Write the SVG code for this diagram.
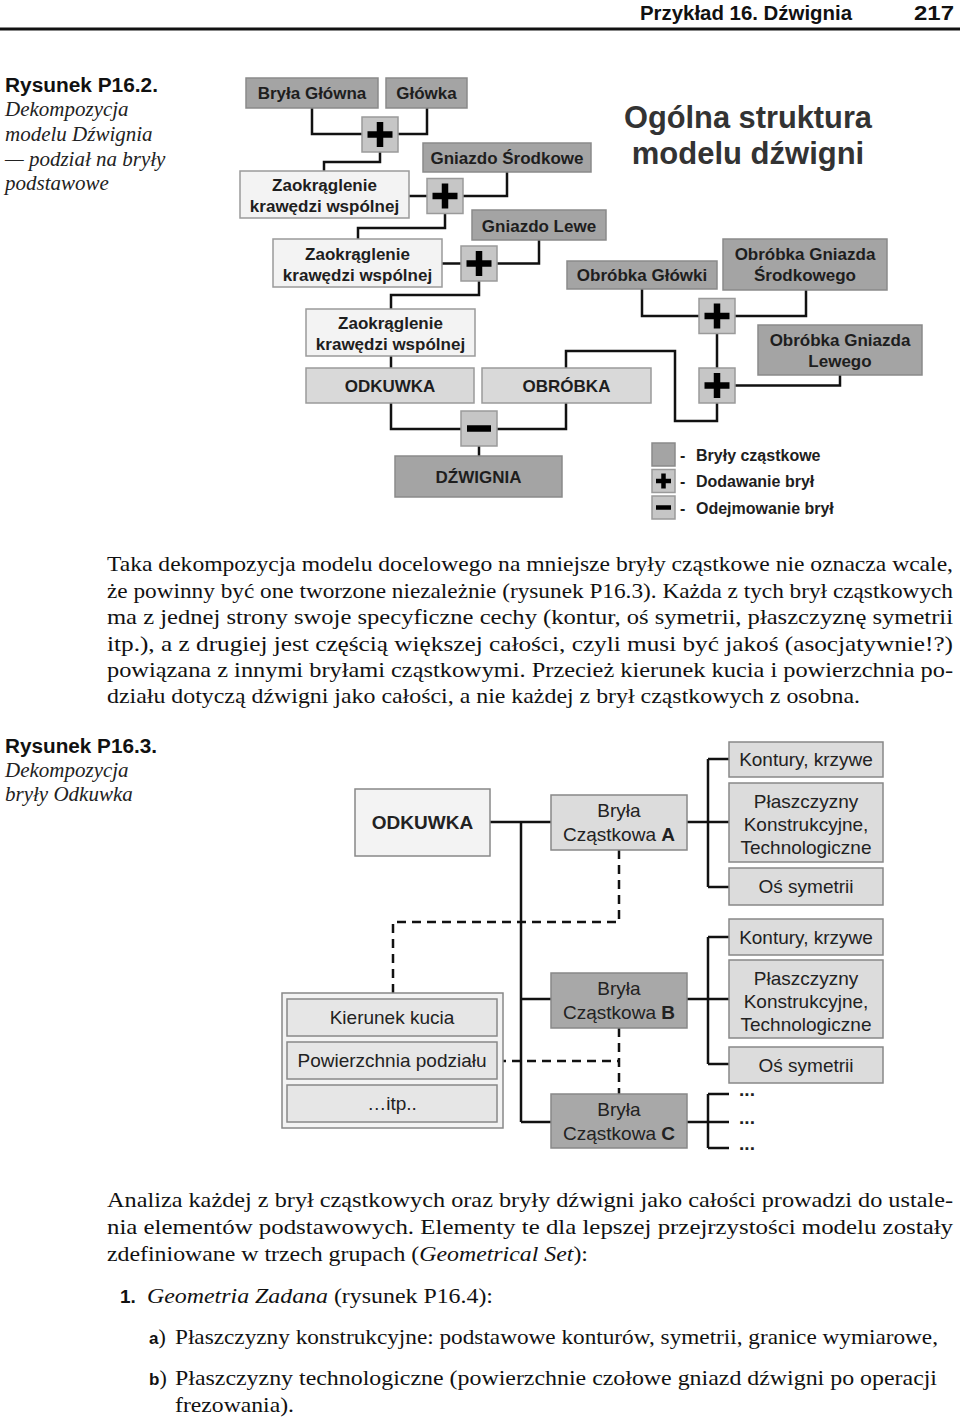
<svg xmlns="http://www.w3.org/2000/svg" xmlns:xlink="http://www.w3.org/1999/xlink" width="960" height="1419" viewBox="0 0 960 1419">
<style>
.bg{fill:#ffffff}
.dark{fill:#a4a4a4;stroke:#8a8a8a;stroke-width:1.5}
.light{fill:#f3f3f3;stroke:#9a9a9a;stroke-width:1.5}
.mid{fill:#d9d9d9;stroke:#9a9a9a;stroke-width:1.5}
.op{fill:#c6c6c6;stroke:#9a9a9a;stroke-width:1.5}
.t1{font-family:"Liberation Sans",Arial,sans-serif;font-weight:bold;font-size:17px;fill:#1e1e1e;text-anchor:middle}
.leg{font-family:"Liberation Sans",Arial,sans-serif;font-weight:bold;font-size:16px;fill:#1e1e1e}
.t2{font-family:"Liberation Sans",Arial,sans-serif;font-size:19px;fill:#222;text-anchor:middle}
.b2{fill:#f3f3f3;stroke:#888;stroke-width:1.5}
.a2{fill:#dcdcdc;stroke:#888;stroke-width:1.5}
.d2{fill:#a8a8a8;stroke:#888;stroke-width:1.5}
.k2{fill:#e6e6e6;stroke:#888;stroke-width:1.5}
.ln{fill:none;stroke:#111;stroke-width:2.5}
.dash{fill:none;stroke:#111;stroke-width:2.5;stroke-dasharray:9 6}
.body{font-family:"Liberation Serif","Times New Roman",serif;font-size:22px;fill:#111}
.cap{font-family:"Liberation Sans",Arial,sans-serif;font-weight:bold;font-size:20px;fill:#111}
.capi{font-family:"Liberation Serif","Times New Roman",serif;font-style:italic;font-size:21px;fill:#222}
</style>
<defs>
<g id="plus"><rect x="0" y="0" width="36" height="35" class="op"/><path d="M5.5 17.5H30.5M18 5V30" stroke="#000" stroke-width="6.5" fill="none"/></g>
<g id="minus"><rect x="0" y="0" width="36" height="35" class="op"/><path d="M6 17.5H30" stroke="#000" stroke-width="6.5" fill="none"/></g>
</defs>
<rect class="bg" x="0" y="0" width="960" height="1419"/>

<g id="header">
<text x="852" y="20" text-anchor="end" font-family="Liberation Sans Narrow,Liberation Sans,Arial,sans-serif" font-weight="bold" font-size="21" fill="#111" textLength="212" lengthAdjust="spacingAndGlyphs">Przykład 16. Dźwignia</text>
<text x="914" y="20" font-family="Liberation Sans Narrow,Liberation Sans,Arial,sans-serif" font-weight="bold" font-size="21" fill="#111" textLength="40" lengthAdjust="spacingAndGlyphs">217</text>
<rect x="0" y="27.5" width="960" height="3" fill="#111"/>
</g>

<g id="caption1">
<text class="cap" x="5" y="92" textLength="153" lengthAdjust="spacingAndGlyphs">Rysunek P16.2.</text>
<text class="capi" x="5" y="116">Dekompozycja</text>
<text class="capi" x="5" y="141">modelu Dźwignia</text>
<text class="capi" x="5" y="166">— podział na bryły</text>
<text class="capi" x="5" y="190">podstawowe</text>
</g>

<g id="title">
<text x="748" y="128" text-anchor="middle" font-family="Liberation Sans,Arial,sans-serif" font-weight="bold" font-size="31" fill="#333" textLength="248" lengthAdjust="spacingAndGlyphs">Ogólna struktura</text>
<text x="748" y="164" text-anchor="middle" font-family="Liberation Sans,Arial,sans-serif" font-weight="bold" font-size="31" fill="#333">modelu dźwigni</text>
</g>

<g id="connectors1">
<path class="ln" d="M312 108V134H362M427 108V134H397"/>
<path class="ln" d="M380 152V162H324V171"/>
<path class="ln" d="M409 196H428M463 196H507V172"/>
<path class="ln" d="M445 214V228H358V239"/>
<path class="ln" d="M442 263.5H461M497 263.5H539V240"/>
<path class="ln" d="M479 281V295H391V309"/>
<path class="ln" d="M391 356V368"/>
<path class="ln" d="M391 403V429H461M566 403V429H497"/>
<path class="ln" d="M479 446V456"/>
<path class="ln" d="M642 289V316H699M806 290V316H735"/>
<path class="ln" d="M717 333V368"/>
<path class="ln" d="M735 385.5H840V375"/>
<path class="ln" d="M717 403V421H675V351H566V368"/>
</g>

<g id="n-bryla-glowna"><rect class="dark" x="246" y="78" width="132" height="30"/><text class="t1" x="312" y="99">Bryła Główna</text></g>
<g id="n-glowka"><rect class="dark" x="386" y="78" width="81" height="30"/><text class="t1" x="426.5" y="99">Główka</text></g>
<g id="n-plus1"><use xlink:href="#plus" x="362" y="117"/></g>
<g id="n-gniazdo-srodkowe"><rect class="dark" x="423" y="143" width="168" height="29"/><text class="t1" x="507" y="164">Gniazdo Środkowe</text></g>
<g id="n-zaokr1"><rect class="light" x="240" y="171" width="169" height="47"/><text class="t1" x="324.5" y="191">Zaokrąglenie</text><text class="t1" x="324.5" y="212">krawędzi wspólnej</text></g>
<g id="n-plus2"><use xlink:href="#plus" x="427" y="178.5"/></g>
<g id="n-gniazdo-lewe"><rect class="dark" x="472" y="210" width="134" height="30"/><text class="t1" x="539" y="232">Gniazdo Lewe</text></g>
<g id="n-zaokr2"><rect class="light" x="273" y="239" width="169" height="48"/><text class="t1" x="357.5" y="260">Zaokrąglenie</text><text class="t1" x="357.5" y="281">krawędzi wspólnej</text></g>
<g id="n-plus3"><use xlink:href="#plus" x="461" y="246"/></g>
<g id="n-zaokr3"><rect class="light" x="306" y="309" width="169" height="47"/><text class="t1" x="390.5" y="329">Zaokrąglenie</text><text class="t1" x="390.5" y="350">krawędzi wspólnej</text></g>
<g id="n-odkuwka1"><rect class="mid" x="306" y="368" width="168" height="35"/><text class="t1" x="390" y="392">ODKUWKA</text></g>
<g id="n-obrobka"><rect class="mid" x="482" y="368" width="169" height="35"/><text class="t1" x="566.5" y="392">OBRÓBKA</text></g>
<g id="n-minus"><use xlink:href="#minus" x="461" y="411"/></g>
<g id="n-dzwignia"><rect class="dark" x="395" y="456" width="167" height="41"/><text class="t1" x="478.5" y="483">DŹWIGNIA</text></g>
<g id="n-obrobka-glowki"><rect class="dark" x="567" y="261" width="150" height="28"/><text class="t1" x="642" y="281">Obróbka Główki</text></g>
<g id="n-obrobka-gs"><rect class="dark" x="723" y="239" width="164" height="51"/><text class="t1" x="805" y="260">Obróbka Gniazda</text><text class="t1" x="805" y="281">Środkowego</text></g>
<g id="n-plus4"><use xlink:href="#plus" x="699" y="298.5"/></g>
<g id="n-obrobka-gl"><rect class="dark" x="758" y="325" width="164" height="50"/><text class="t1" x="840" y="346">Obróbka Gniazda</text><text class="t1" x="840" y="367">Lewego</text></g>
<g id="n-plus5"><use xlink:href="#plus" x="699" y="368"/></g>

<g id="legend">
<rect class="dark" x="652" y="443" width="23" height="23"/>
<rect class="op" x="652" y="469.5" width="23" height="23"/>
<path d="M656 481H671M663.5 473.5V488.5" stroke="#000" stroke-width="4.5" fill="none"/>
<rect class="op" x="652" y="496" width="23" height="23"/>
<path d="M656 507.5H671" stroke="#000" stroke-width="4.5" fill="none"/>
<text class="leg" x="680" y="461">-</text><text class="leg" x="696" y="461">Bryły cząstkowe</text>
<text class="leg" x="680" y="487">-</text><text class="leg" x="696" y="487">Dodawanie brył</text>
<text class="leg" x="680" y="514">-</text><text class="leg" x="696" y="514">Odejmowanie brył</text>
</g>

<g id="paragraph1" class="body">
<text x="107" y="571" textLength="846" lengthAdjust="spacingAndGlyphs">Taka dekompozycja modelu docelowego na mniejsze bryły cząstkowe nie oznacza wcale,</text>
<text x="107" y="597.5" textLength="846" lengthAdjust="spacingAndGlyphs">że powinny być one tworzone niezależnie (rysunek P16.3). Każda z tych brył cząstkowych</text>
<text x="107" y="624" textLength="846" lengthAdjust="spacingAndGlyphs">ma z jednej strony swoje specyficzne cechy (kontur, oś symetrii, płaszczyznę symetrii</text>
<text x="107" y="650.5" textLength="846" lengthAdjust="spacingAndGlyphs">itp.), a z drugiej jest częścią większej całości, czyli musi być jakoś (asocjatywnie!?)</text>
<text x="107" y="677" textLength="846" lengthAdjust="spacingAndGlyphs">powiązana z innymi bryłami cząstkowymi. Przecież kierunek kucia i powierzchnia po-</text>
<text x="107" y="703" textLength="753" lengthAdjust="spacingAndGlyphs">działu dotyczą dźwigni jako całości, a nie każdej z brył cząstkowych z osobna.</text>
</g>

<g id="caption2">
<text class="cap" x="5" y="753" textLength="152" lengthAdjust="spacingAndGlyphs">Rysunek P16.3.</text>
<text class="capi" x="5" y="777">Dekompozycja</text>
<text class="capi" x="5" y="801">bryły Odkuwka</text>
</g>

<g id="connectors2">
<path class="ln" d="M490 822H551M521 822V1122M521 999H551M521 1122H551"/>
<path class="ln" d="M687 822H729M708 759V887M708 759H729M708 887H729"/>
<path class="ln" d="M687 999H729M708 937V1064M708 937H729M708 1064H729"/>
<path class="ln" d="M687 1122H729M708 1094V1148M708 1094H729M708 1148H729"/>
<path class="dash" d="M619 850V922H393V993"/>
<path class="dash" d="M619 1028V1094"/>
<path class="dash" d="M497 1061H619"/>
</g>

<g id="n-odkuwka2"><rect class="b2" x="355" y="789" width="135" height="67"/><text class="t2" x="422.5" y="829" font-weight="bold">ODKUWKA</text></g>
<g id="n-bryla-a"><rect class="a2" x="551" y="795" width="136" height="55"/><text class="t2" x="619" y="817">Bryła</text><text class="t2" x="619" y="841">Cząstkowa <tspan font-weight="bold">A</tspan></text></g>
<g id="n-bryla-b"><rect class="d2" x="551" y="973" width="136" height="55"/><text class="t2" x="619" y="995">Bryła</text><text class="t2" x="619" y="1019">Cząstkowa <tspan font-weight="bold">B</tspan></text></g>
<g id="n-bryla-c"><rect class="d2" x="551" y="1094" width="136" height="54"/><text class="t2" x="619" y="1116">Bryła</text><text class="t2" x="619" y="1140">Cząstkowa <tspan font-weight="bold">C</tspan></text></g>

<g id="n-a-kontury"><rect class="a2" x="729" y="742" width="154" height="35"/><text class="t2" x="806" y="766">Kontury, krzywe</text></g>
<g id="n-a-plaszcz"><rect class="a2" x="729" y="783" width="154" height="79"/><text class="t2" x="806" y="808">Płaszczyzny</text><text class="t2" x="806" y="831">Konstrukcyjne,</text><text class="t2" x="806" y="854">Technologiczne</text></g>
<g id="n-a-os"><rect class="a2" x="729" y="868" width="154" height="37"/><text class="t2" x="806" y="893">Oś symetrii</text></g>
<g id="n-b-kontury"><rect class="a2" x="729" y="919" width="154" height="36"/><text class="t2" x="806" y="944">Kontury, krzywe</text></g>
<g id="n-b-plaszcz"><rect class="a2" x="729" y="960" width="154" height="78"/><text class="t2" x="806" y="985">Płaszczyzny</text><text class="t2" x="806" y="1008">Konstrukcyjne,</text><text class="t2" x="806" y="1031">Technologiczne</text></g>
<g id="n-b-os"><rect class="a2" x="729" y="1047" width="154" height="36"/><text class="t2" x="806" y="1072">Oś symetrii</text></g>
<g id="n-c-dots">
<text class="t2" x="747" y="1096" font-weight="bold">...</text>
<text class="t2" x="747" y="1124" font-weight="bold">...</text>
<text class="t2" x="747" y="1150" font-weight="bold">...</text>
</g>

<g id="n-wspolne">
<rect class="b2" x="282" y="993" width="221" height="135"/>
<rect class="k2" x="287" y="999" width="210" height="37"/><text class="t2" x="392" y="1024">Kierunek kucia</text>
<rect class="k2" x="287" y="1042" width="210" height="37"/><text class="t2" x="392" y="1067">Powierzchnia podziału</text>
<rect class="k2" x="287" y="1085" width="210" height="37"/><text class="t2" x="392" y="1110">…itp..</text>
</g>

<g id="paragraph2" class="body">
<text x="107" y="1207" textLength="846" lengthAdjust="spacingAndGlyphs">Analiza każdej z brył cząstkowych oraz bryły dźwigni jako całości prowadzi do ustale-</text>
<text x="107" y="1234" textLength="846" lengthAdjust="spacingAndGlyphs">nia elementów podstawowych. Elementy te dla lepszej przejrzystości modelu zostały</text>
<text x="107" y="1261" textLength="481" lengthAdjust="spacingAndGlyphs">zdefiniowane w trzech grupach (<tspan font-style="italic">Geometrical Set</tspan>):</text>
<text x="120" y="1303" font-family="Liberation Sans,Arial,sans-serif" font-weight="bold" font-size="19">1.</text>
<text x="147" y="1303" textLength="346" lengthAdjust="spacingAndGlyphs"><tspan font-style="italic">Geometria Zadana</tspan> (rysunek P16.4):</text>
<text x="149" y="1344" font-family="Liberation Sans,Arial,sans-serif" font-weight="bold" font-size="17">a<tspan font-family="Liberation Serif,serif" font-weight="normal" font-size="22">)</tspan></text>
<text x="175" y="1344" textLength="763" lengthAdjust="spacingAndGlyphs">Płaszczyzny konstrukcyjne: podstawowe konturów, symetrii, granice wymiarowe,</text>
<text x="149" y="1385" font-family="Liberation Sans,Arial,sans-serif" font-weight="bold" font-size="17">b<tspan font-family="Liberation Serif,serif" font-weight="normal" font-size="22">)</tspan></text>
<text x="175" y="1385" textLength="762" lengthAdjust="spacingAndGlyphs">Płaszczyzny technologiczne (powierzchnie czołowe gniazd dźwigni po operacji</text>
<text x="175" y="1412" textLength="119" lengthAdjust="spacingAndGlyphs">frezowania).</text>
</g>
</svg>
